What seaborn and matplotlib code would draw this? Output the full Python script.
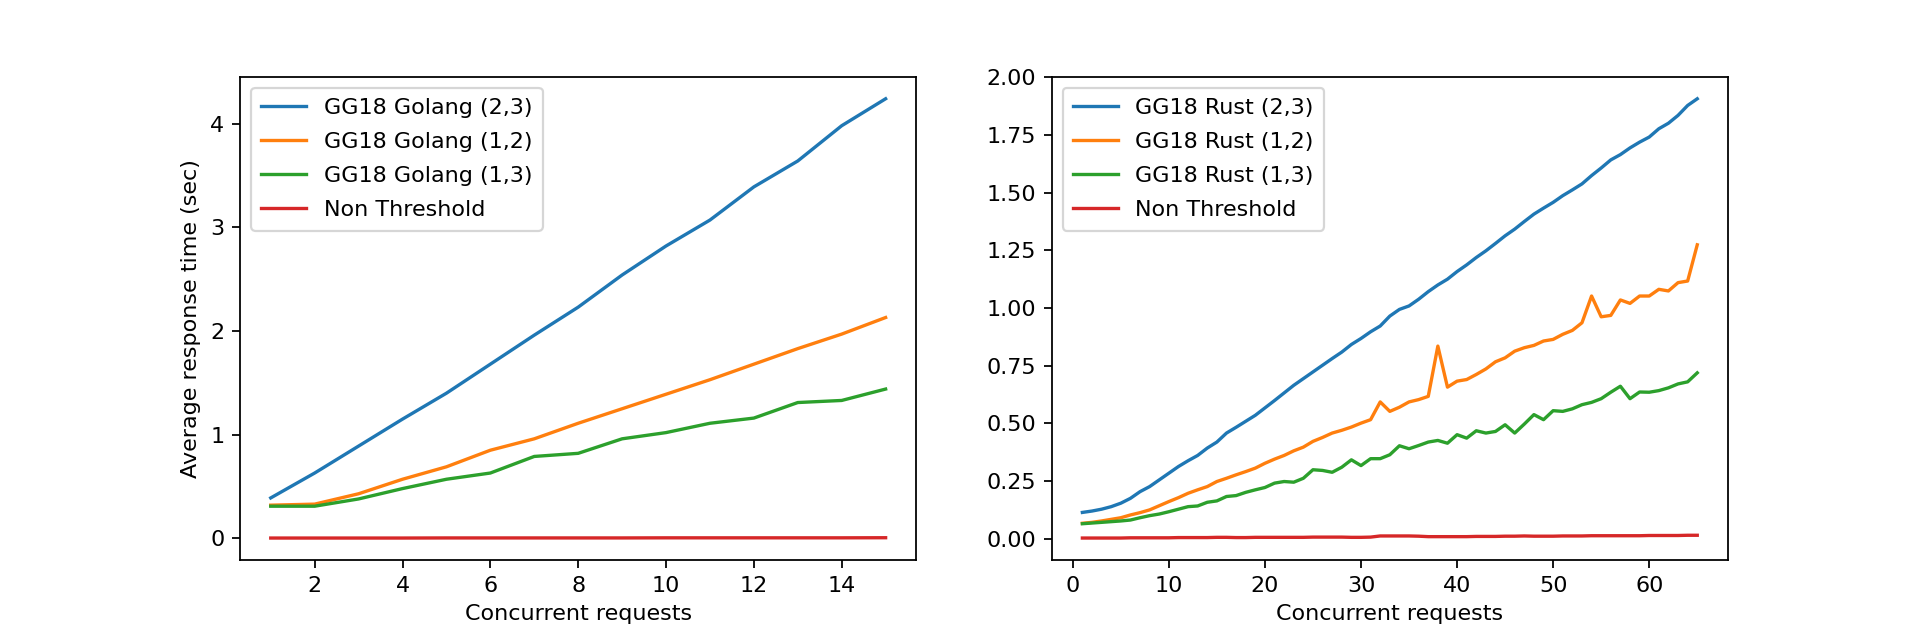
import numpy as np
import pandas as pd
import matplotlib
matplotlib.use("Agg")
import matplotlib.pyplot as plt
import seaborn as sns

# Golang benchmark (1..15 concurrent requests)
golang_x = list(range(1, 16))
golang_23 = [0.39, 0.63, 0.89, 1.15, 1.40, 1.68, 1.96, 2.23, 2.54, 2.82, 3.07, 3.39, 3.64, 3.98, 4.24]
golang_12 = [0.32, 0.33, 0.43, 0.57, 0.69, 0.85, 0.96, 1.11, 1.25, 1.39, 1.53, 1.68, 1.83, 1.97, 2.13]
golang_13 = [0.31, 0.31, 0.38, 0.48, 0.57, 0.63, 0.79, 0.82, 0.96, 1.02, 1.11, 1.16, 1.31, 1.33, 1.44]
golang_nt = [0.003, 0.003, 0.003, 0.003, 0.004, 0.004, 0.004, 0.004, 0.004, 0.005, 0.005, 0.005, 0.005, 0.005, 0.006]

# Rust benchmark (1..65 concurrent requests)
rust_x = list(range(1, 66))
rust_23 = [0.114, 0.120, 0.128, 0.139, 0.154, 0.175, 0.204, 0.226, 0.255, 0.284, 0.313, 0.338, 0.361, 0.393, 0.419, 0.458,
           0.483, 0.509, 0.535, 0.567, 0.599, 0.632, 0.665, 0.694, 0.723, 0.752, 0.781, 0.809, 0.842, 0.868, 0.897, 0.922, 0.965, 0.994,
           1.009, 1.038, 1.071, 1.100, 1.125, 1.158, 1.187, 1.219, 1.248, 1.280, 1.313, 1.342, 1.375, 1.407, 1.433, 1.458, 1.487, 1.512,
           1.538, 1.574, 1.607, 1.642, 1.665, 1.694, 1.719, 1.741, 1.777, 1.801, 1.835, 1.878, 1.907]
rust_12 = [0.067, 0.071, 0.077, 0.084, 0.091, 0.103, 0.113, 0.125, 0.143, 0.161, 0.178, 0.197, 0.212, 0.226, 0.248, 0.262,
           0.277, 0.291, 0.306, 0.327, 0.345, 0.361, 0.381, 0.397, 0.422, 0.439, 0.458, 0.470, 0.484, 0.501, 0.516, 0.593, 0.552, 0.570,
           0.593, 0.603, 0.617, 0.835, 0.657, 0.683, 0.690, 0.712, 0.736, 0.767, 0.784, 0.813, 0.828, 0.838, 0.857, 0.864, 0.886, 0.903,
           0.936, 1.052, 0.962, 0.968, 1.035, 1.020, 1.052, 1.052, 1.081, 1.074, 1.110, 1.117, 1.274]
rust_13 = [0.065, 0.068, 0.071, 0.074, 0.077, 0.081, 0.091, 0.100, 0.107, 0.117, 0.128, 0.139, 0.142, 0.158, 0.164, 0.183,
           0.187, 0.201, 0.212, 0.222, 0.241, 0.248, 0.245, 0.262, 0.299, 0.296, 0.288, 0.310, 0.342, 0.317, 0.347, 0.347, 0.364, 0.403,
           0.390, 0.404, 0.419, 0.426, 0.414, 0.451, 0.436, 0.468, 0.458, 0.465, 0.494, 0.458, 0.497, 0.538, 0.516, 0.555, 0.552, 0.563,
           0.581, 0.591, 0.607, 0.635, 0.661, 0.607, 0.636, 0.635, 0.642, 0.654, 0.671, 0.680, 0.719]
rust_nt = [0.003, 0.003, 0.003, 0.003, 0.003, 0.004, 0.004, 0.004, 0.004, 0.004, 0.005, 0.005, 0.005, 0.005, 0.006, 0.006,
           0.005, 0.005, 0.006, 0.006, 0.006, 0.006, 0.006, 0.006, 0.007, 0.007, 0.007, 0.007, 0.006, 0.006, 0.007, 0.012, 0.012, 0.012,
           0.012, 0.011, 0.009, 0.009, 0.009, 0.009, 0.009, 0.010, 0.010, 0.010, 0.011, 0.011, 0.012, 0.011, 0.011, 0.011, 0.012, 0.012,
           0.012, 0.013, 0.013, 0.013, 0.013, 0.013, 0.013, 0.014, 0.014, 0.014, 0.014, 0.015, 0.015]

fig, (ax1, ax2) = plt.subplots(1, 2, figsize=(12, 4), dpi=160)
fig.subplots_adjust(left=0.125, right=0.9, bottom=0.125, top=0.88, wspace=0.2)

# Golang
for y, lbl in [(golang_23, 'GG18 Golang (2,3)'), (golang_12, 'GG18 Golang (1,2)'),
               (golang_13, 'GG18 Golang (1,3)'), (golang_nt, 'Non Threshold')]:
    sns.lineplot(x=golang_x, y=y, label=lbl, ax=ax1)
ax1.set_xlabel('Concurrent requests')
ax1.set_ylabel('Average response time (sec)')
ax1.set_xticks([2, 4, 6, 8, 10, 12, 14])
ax1.legend(loc='upper left', labelspacing=0.63, borderpad=0.465)

# Rust
for y, lbl in [(rust_23, 'GG18 Rust (2,3)'), (rust_12, 'GG18 Rust (1,2)'),
               (rust_13, 'GG18 Rust (1,3)'), (rust_nt, 'Non Threshold')]:
    sns.lineplot(x=rust_x, y=y, label=lbl, ax=ax2)
ax2.set_xlabel('Concurrent requests')
ax2.legend(loc='upper left', labelspacing=0.63, borderpad=0.465)

fig.savefig('out.png', dpi=160)
